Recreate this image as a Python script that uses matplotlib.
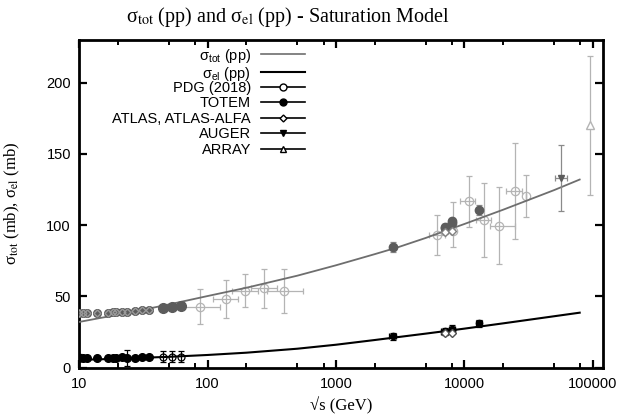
import matplotlib
matplotlib.use('Agg')
import matplotlib.pyplot as plt
from matplotlib.ticker import LogLocator, NullFormatter
from matplotlib.lines import Line2D

plt.rcParams['font.family'] = ['Liberation Sans', 'DejaVu Sans']
plt.rcParams['mathtext.fontset'] = 'custom'
plt.rcParams['mathtext.rm'] = 'Liberation Sans'
plt.rcParams['mathtext.it'] = 'Liberation Sans:italic'

# ---- model curves ----
curve_sqrts = [10, 15, 20, 30, 50, 100, 200, 500, 1000, 2000, 3000, 5000, 7000, 10000, 20000, 50000, 79000]
sigma_tot_model = [32.0, 35.0, 37.0, 40.2, 44.3, 50.2, 56.0, 64.5, 71.8, 79.6, 84.3, 91.0, 95.8, 100.8, 110.8, 124.6, 132.0]
sigma_el_model = [5.4, 5.8, 6.2, 6.8, 7.5, 8.8, 10.4, 13.2, 16.0, 19.3, 21.3, 23.8, 25.5, 27.3, 31.0, 36.0, 38.5]

# ---- low-energy data (fixed target / ISR) ----
low_sqrts = [10.0, 10.7, 11.5, 13.8, 16.8, 18.4, 19.4, 21.7, 23.5, 27.4, 30.6, 35.0]
low_tot = [38.4, 38.3, 38.5, 38.4, 38.5, 38.7, 38.9, 39.0, 38.9, 39.5, 40.1, 40.3]
low_tot_err = [1.5, 1.2, 1.2, 1.0, 1.0, 1.0, 1.2, 1.5, 1.0, 1.0, 1.0, 1.0]
low_el = [7.0, 6.9, 6.9, 6.9, 7.0, 7.0, 7.0, 7.1, 6.9, 7.0, 7.2, 7.2]
low_el_err = [2.5, 1.5, 1.0, 1.0, 1.0, 1.0, 1.0, 1.0, 5.5, 1.0, 1.0, 1.0]

isr_sqrts = [44.7, 52.8, 62.3]
isr_tot = [41.8, 42.5, 43.3]
isr_tot_err = [1.5, 1.5, 2.5]
isr_el = [7.5, 7.6, 7.6]
isr_el_err = [3.8, 4.0, 3.8]

# ---- PDG (2018) higher-energy points ----
pdg_sqrts = [87, 138, 196, 276, 390, 6120, 8090, 10790, 14130, 18650, 24660, 30270]
pdg_tot = [42.7, 47.9, 53.9, 55.6, 53.9, 93.0, 96.0, 116.8, 103.5, 99.5, 123.9, 120.4]
pdg_err_lo = [12.2, 13.2, 11.5, 13.5, 15.5, 14.0, 11.6, 17.9, 26.0, 27.0, 34.0, 15.0]
pdg_err_hi = [12.2, 13.2, 11.5, 13.5, 15.5, 14.0, 20.3, 17.9, 26.0, 27.0, 34.0, 15.0]
pdg_x_lo = [61, 110, 154, 217, 289, 5260, 8090, 9200, 12300, 15800, 21000, 30270]
pdg_x_hi = [124, 173, 248, 345, 553, 7000, 8090, 12000, 16000, 24900, 27900, 30270]

# ---- TOTEM ----
totem_sqrts = [2760, 7000, 7000, 8000, 8000, 13000]
totem_tot = [84.7, 98.3, 98.6, 101.7, 102.9, 110.6]
totem_tot_err = [3.3, 2.8, 2.2, 2.9, 2.3, 3.4]
totem_el = [21.8, 25.4, 25.1, 27.1, 26.5, 31.0]
totem_el_err = [2.5, 2.2, 2.0, 2.4, 2.0, 2.5]

# ---- ATLAS, ATLAS-ALFA ----
atlas_sqrts = [7000, 8000]
atlas_tot = [95.35, 96.07]
atlas_tot_err = [1.4, 0.9]
atlas_el = [24.0, 24.3]
atlas_el_err = [1.0, 0.8]

# ---- AUGER ----
auger_sqrts = [57000]
auger_tot = [133.0]
auger_err = [23.0]
auger_x_lo = [51000]
auger_x_hi = [63000]

# ---- Telescope ARRAY ----
array_sqrts = [95000]
array_tot = [170.0]
array_err = [49.0]

xtick_vals = [10, 100, 1000, 10000, 100000]
xtick_labels = ['10', '100', '1000', '10000', '100000']
ytick_vals = [0, 50, 100, 150, 200]

W, H = 622, 419
fig = plt.figure(figsize=(W / 100, H / 100), dpi=100)
L, R, T, B = 79.3, 603.0, 40.0, 367.5
ax = fig.add_axes([L / W, 1 - B / H, (R - L) / W, (B - T) / H])
ax.set_xscale('log')
ax.set_xlim(10, 1.2e5)
ax.set_ylim(0, 230)

c_tot_line = '#6e6e6e'
c_light = '#b4b4b4'
c_dark = '#5c5c5c'

# curves
ax.plot(curve_sqrts, sigma_tot_model, color=c_tot_line, lw=1.3, zorder=3)
ax.plot(curve_sqrts, sigma_el_model, color='black', lw=1.5, zorder=3)

ekw = dict(capsize=2.5, elinewidth=0.9, capthick=0.9, ls='none')

# PDG high energy (light gray open circles)
pdg_xerr = [[s - lo for s, lo in zip(pdg_sqrts, pdg_x_lo)],
            [hi - s for s, hi in zip(pdg_sqrts, pdg_x_hi)]]
ax.errorbar(pdg_sqrts, pdg_tot, yerr=[pdg_err_lo, pdg_err_hi], xerr=pdg_xerr,
            marker='o', ms=6, mfc='none', mec=c_light, color=c_light, mew=0.9, **ekw, zorder=2)

# low energy sigma_tot (dense gray)
ax.errorbar(low_sqrts, low_tot, yerr=low_tot_err, marker='o', ms=5.5, mfc=c_dark,
            mec=c_dark, color='#8a8a8a', **ekw, zorder=4)
ax.errorbar(low_sqrts, low_tot, marker='D', ms=3.5, mfc='none', mec='#9a9a9a', ls='none', zorder=5)
ax.errorbar(isr_sqrts, isr_tot, yerr=isr_tot_err, marker='o', ms=7, mfc=c_dark,
            mec=c_dark, color='#8a8a8a', **ekw, zorder=4)

# low energy sigma_el (black)
ax.errorbar(low_sqrts, low_el, yerr=low_el_err, marker='o', ms=5.5, mfc='black',
            mec='black', color='black', **ekw, zorder=4)
ax.errorbar(isr_sqrts, isr_el, yerr=isr_el_err, marker='o', ms=5, mfc='none',
            mec='black', color='black', mew=0.9, **ekw, zorder=4)

# TOTEM
ax.errorbar(totem_sqrts, totem_tot, yerr=totem_tot_err, marker='o', ms=6, mfc=c_dark,
            mec=c_dark, color='#8a8a8a', **ekw, zorder=5)
ax.errorbar(totem_sqrts, totem_el, yerr=totem_el_err,
            xerr=[[s * 0.06 for s in totem_sqrts], [s * 0.06 for s in totem_sqrts]],
            marker='o', ms=4.5, mfc='black', mec='black', color='black', **ekw, zorder=5)

# ATLAS
ax.errorbar(atlas_sqrts, atlas_tot, yerr=atlas_tot_err, marker='D', ms=4, mfc='white',
            mec='#808080', color='#808080', **ekw, zorder=5)
ax.errorbar(atlas_sqrts, atlas_el, yerr=atlas_el_err, marker='D', ms=4, mfc='white',
            mec='#505050', color='#505050', **ekw, zorder=5)

# AUGER
ax.errorbar(auger_sqrts, auger_tot, yerr=auger_err,
            xerr=[[s - lo for s, lo in zip(auger_sqrts, auger_x_lo)],
                  [hi - s for s, hi in zip(auger_sqrts, auger_x_hi)]],
            marker='v', ms=5, mfc=c_dark, mec=c_dark, color='#8a8a8a', **ekw, zorder=5)

# ARRAY
ax.errorbar(array_sqrts, array_tot, yerr=array_err, marker='^', ms=6, mfc='white',
            mec=c_light, color=c_light, **ekw, zorder=5)

# axes styling
for sp in ax.spines.values():
    sp.set_linewidth(2.0)
ax.set_xticks(xtick_vals)
ax.set_xticklabels(xtick_labels)
ax.xaxis.set_minor_locator(LogLocator(base=10, subs=(2.0, 5.0, 8.0)))
ax.xaxis.set_minor_formatter(NullFormatter())
ax.set_yticks(ytick_vals)
ax.tick_params(which='major', direction='in', top=True, right=True, length=6, width=1.6,
               labelsize=10.5, pad=6)
ax.tick_params(which='minor', direction='in', top=True, right=True, length=3.5, width=1.4)
ax.tick_params(axis='x', which='major', pad=7)

serif = ['Liberation Serif', 'DejaVu Serif']
ax.set_xlabel('√s (GeV)', family=serif, fontsize=12, math_fontfamily='stix')
ax.xaxis.set_label_coords(0.5, -0.09)
ax.set_ylabel('σ$_{\\mathrm{tot}}$ (mb), σ$_{\\mathrm{el}}$ (mb)', family=serif, fontsize=12,
              math_fontfamily='stix')
ax.yaxis.set_label_coords(-0.11, 0.5)

fig.text(287.8 / W, 1 - 22 / H,
         'σ$_{\\mathrm{tot}}$ (pp) and σ$_{\\mathrm{el}}$ (pp) - Saturation Model',
         family=serif, fontsize=14.5, math_fontfamily='stix', ha='center', va='baseline')

# legends (model curves, then data sets)
curve_handles = [
    Line2D([], [], color=c_tot_line, lw=1.2),
    Line2D([], [], color='black', lw=1.5),
]
curve_labels = ['σ$_{\\mathrm{tot}}$ (pp)', 'σ$_{\\mathrm{el}}$ (pp)']
data_handles = [
    Line2D([], [], color='black', lw=1.2, marker='o', ms=5, mfc='white', mec='black'),
    Line2D([], [], color='black', lw=1.2, marker='o', ms=5, mfc='black', mec='black'),
    Line2D([], [], color='black', lw=1.2, marker='D', ms=3.5, mfc='white', mec='black'),
    Line2D([], [], color='black', lw=1.2, marker='v', ms=4.5, mfc='black', mec='black'),
    Line2D([], [], color='black', lw=1.2, marker='^', ms=5, mfc='white', mec='black'),
]
data_labels = ['PDG (2018)', 'TOTEM', 'ATLAS, ATLAS-ALFA', 'AUGER', 'ARRAY']
common = dict(loc='upper right', markerfirst=False, frameon=False, fontsize=10.5,
              handlelength=3.0, handletextpad=0.7, borderpad=0, borderaxespad=0)
ax_x = (305 - L) / (R - L)
leg1 = ax.legend(curve_handles, curve_labels, bbox_to_anchor=(ax_x, (B - 46.5) / (B - T)),
                 labelspacing=0.0, **common)
ax.add_artist(leg1)
ax.legend(data_handles, data_labels, bbox_to_anchor=(ax_x, (B - 81) / (B - T)),
          labelspacing=0.1, **common)

fig.savefig('out.png', dpi=100)
